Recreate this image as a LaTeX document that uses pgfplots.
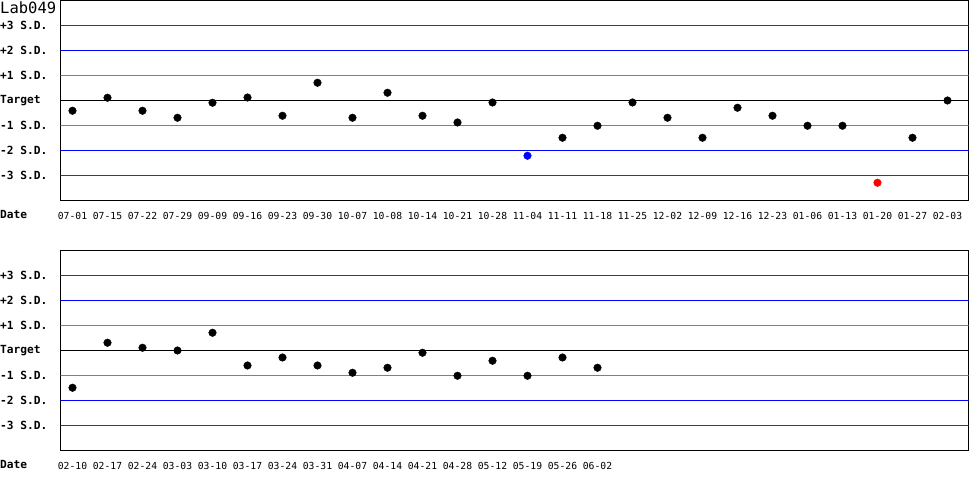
\documentclass[border=0pt]{standalone}
\usepackage{pgfplots}
\pgfplotsset{compat=1.18}
\usepackage{pgfplotstable}
\usepackage{fontspec}
\setmainfont{DejaVu Sans Mono}
\definecolor{sdred}{RGB}{210,0,0}
\definecolor{sdgray}{RGB}{128,128,128}

\pgfplotstableread{
i v
0 -0.41
1 0.11
2 -0.41
3 -0.69
4 -0.09
5 0.12
6 -0.61
7 0.71
8 -0.69
9 0.31
10 -0.61
11 -0.88
12 -0.08
14 -1.49
15 -1.01
16 -0.08
17 -0.69
18 -1.49
19 -0.29
20 -0.61
21 -1.01
22 -1.01
24 -1.49
25 0.00
}\topblack

\pgfplotstableread{
i v
0 -1.49
1 0.31
2 0.11
3 0.00
4 0.71
5 -0.60
6 -0.28
7 -0.60
8 -0.89
9 -0.69
10 -0.09
11 -1.01
12 -0.41
13 -1.01
14 -0.28
15 -0.69
}\botblack

\pgfplotsset{
  qc/.style={
    scale only axis, width=908pt, height=200pt,
    xmin=-0.343, xmax=25.6, ymin=-4, ymax=4,
    axis line style={black, line width=1pt},
    major tick length=0pt,
    ytick={-3,-2,-1,0,1,2,3},
    yticklabels={-3 S.D.,-2 S.D.,-1 S.D.,Target,+1 S.D.,+2 S.D.,+3 S.D.},
    yticklabel style={font=\fontsize{11.2}{12}\selectfont\bfseries, anchor=west, inner sep=0pt, xshift=-60.5pt},
    xticklabel style={font=\fontsize{9.7}{10}\selectfont, anchor=center, inner sep=0pt, yshift=-15pt},
    clip=true,
  },
  sdl/.style={line width=1pt, forget plot},
}

\begin{document}
\begin{tikzpicture}
\useasboundingbox (0pt,0pt) rectangle (970pt,500pt);
\begin{axis}[qc, at={(60.5pt,299.5pt)}, anchor=south west,
  xtick={0,...,25},
  xticklabels={07-01,07-15,07-22,07-29,09-09,09-16,09-23,09-30,10-07,10-08,10-14,10-21,10-28,11-04,11-11,11-18,11-25,12-02,12-09,12-16,12-23,01-06,01-13,01-20,01-27,02-03}]
\addplot[sdl, color=sdred] coordinates {(-1,3) (27,3)};
\addplot[sdl, color=blue] coordinates {(-1,2) (27,2)};
\addplot[sdl, color=sdgray] coordinates {(-1,1) (27,1)};
\addplot[sdl, color=black] coordinates {(-1,0) (27,0)};
\addplot[sdl, color=sdgray] coordinates {(-1,-1) (27,-1)};
\addplot[sdl, color=blue] coordinates {(-1,-2) (27,-2)};
\addplot[sdl, color=sdred] coordinates {(-1,-3) (27,-3)};
\addplot[only marks, mark=*, mark size=3.8pt, black] table[x=i,y=v] {\topblack};
\addplot[only marks, mark=*, mark size=3.8pt, draw=blue, fill=blue] coordinates {(13,-2.21)};
\addplot[only marks, mark=*, mark size=3.8pt, draw=red, fill=red] coordinates {(23,-3.29)};
\end{axis}
\begin{axis}[qc, at={(60.5pt,49.5pt)}, anchor=south west,
  xtick={0,...,15},
  xticklabels={02-10,02-17,02-24,03-03,03-10,03-17,03-24,03-31,04-07,04-14,04-21,04-28,05-12,05-19,05-26,06-02}]
\addplot[sdl, color=sdred] coordinates {(-1,3) (27,3)};
\addplot[sdl, color=blue] coordinates {(-1,2) (27,2)};
\addplot[sdl, color=sdgray] coordinates {(-1,1) (27,1)};
\addplot[sdl, color=black] coordinates {(-1,0) (27,0)};
\addplot[sdl, color=sdgray] coordinates {(-1,-1) (27,-1)};
\addplot[sdl, color=blue] coordinates {(-1,-2) (27,-2)};
\addplot[sdl, color=sdred] coordinates {(-1,-3) (27,-3)};
\addplot[only marks, mark=*, mark size=3.8pt, black] table[x=i,y=v] {\botblack};
\end{axis}
\node[anchor=north west, inner sep=0pt, font=\fontsize{15.5}{16}\selectfont] at (0pt,498pt) {Lab049};
\node[anchor=west, inner sep=0pt, font=\fontsize{11.2}{12}\selectfont\bfseries] at (0pt,285pt) {Date};
\node[anchor=west, inner sep=0pt, font=\fontsize{11.2}{12}\selectfont\bfseries] at (0pt,35pt) {Date};
\end{tikzpicture}
\end{document}
